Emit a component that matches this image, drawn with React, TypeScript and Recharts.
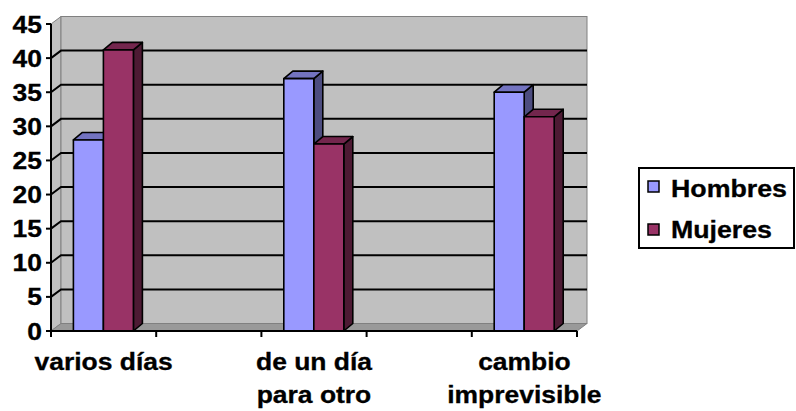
import React from 'react';
import { ComposedChart, Bar, XAxis, YAxis, ReferenceArea, Legend } from 'recharts';

const categories = ['varios días', 'de un día\npara otro', 'cambio\nimprevisible'];
const hombres = [28, 37, 35];
const mujeres = [41.2, 27.4, 31.4];

const yTicks = [0, 5, 10, 15, 20, 25, 30, 35, 40, 45];
const gridValues = [5, 10, 15, 20, 25, 30, 35, 40];
// tick marks sit between half-categories, labels sit on the category centres
const boundaryTicks = [-0.25, 0.25, 0.75, 1.25, 1.75, 2.25];
const labelTicks = [0, 1, 2];

const series = [
    { key: 'hombres', name: 'Hombres', width: 116, front: '#9999FF', top: '#7373C0', side: '#4D4D80' },
    { key: 'mujeres', name: 'Mujeres', width: 101, front: '#993366', top: '#73264D', side: '#4D1A33' },
];

const data = categories.map((c, i) => ({ x: i, name: c, hombres: hombres[i], mujeres: mujeres[i] }));

const FONT = '"Liberation Sans", Arial, sans-serif';
const FONT_SIZE = 23;
const STRETCH = 1.15;
// depth of the 3D walls and boxes
const DX = 10;
const DY = -7.5;
const BDX = 9;
const BDY = -7.5;

const textStyle = {
    fontFamily: FONT,
    fontWeight: 'bold' as const,
    fontSize: FONT_SIZE,
    fill: '#000',
    stroke: '#000',
    strokeWidth: 0.3,
};

const Walls = (props: any) => {
    const { x, y, width: w, height: h } = props;
    const bottom = y + h;
    return (
        <g>
            {/* left side wall */}
            <polygon
                points={`${x},${bottom} ${x},${y} ${x + DX},${y + DY} ${x + DX},${bottom + DY}`}
                fill="#C0C0C0"
                stroke="#808080"
                strokeWidth={1}
            />
            {/* back wall */}
            <rect x={x + DX} y={y + DY} width={w} height={h} fill="#C0C0C0" stroke="#808080" strokeWidth={1} />
            {/* floor */}
            <polygon
                points={`${x},${bottom} ${x + DX},${bottom + DY} ${x + w + DX},${bottom + DY} ${x + w},${bottom}`}
                fill="#999999"
                stroke="#808080"
                strokeWidth={1}
            />
            {gridValues.map(v => {
                const gy = y + h * (1 - v / 45);
                return (
                    <polyline
                        key={v}
                        points={`${x},${gy} ${x + DX},${gy + DY} ${x + w + DX},${gy + DY}`}
                        fill="none"
                        stroke="#000"
                        strokeWidth={2}
                    />
                );
            })}
        </g>
    );
};

const makeBox = (top: string, side: string) => (props: any) => {
    const { x, y, width: w, height: h, fill } = props;
    if (!h || h <= 0) return <g />;
    return (
        <g stroke="#000" strokeWidth={1.6} strokeLinejoin="round">
            <polygon points={`${x + w},${y} ${x + w + BDX},${y + BDY} ${x + w + BDX},${y + h + BDY} ${x + w},${y + h}`} fill={side} />
            <polygon points={`${x},${y} ${x + BDX},${y + BDY} ${x + w + BDX},${y + BDY} ${x + w},${y}`} fill={top} />
            <rect x={x} y={y} width={w} height={h} fill={fill} />
        </g>
    );
};

const YTick = (props: any) => {
    const { x, y, payload } = props;
    return (
        <text transform={`translate(${x + 1},${y + 8.5}) scale(${STRETCH},1)`} textAnchor="end" {...textStyle}>
            {payload.value}
        </text>
    );
};

const XTick = (props: any) => {
    const { x, y, payload } = props;
    const v = payload.value;
    if (!Number.isInteger(v)) {
        return <line x1={x} y1={y} x2={x} y2={y + 6} stroke="#000" strokeWidth={2} />;
    }
    const lines = categories[v].split('\n');
    return (
        <text transform={`translate(${x},${y + 39}) scale(${STRETCH},1)`} textAnchor="middle" {...textStyle}>
            {lines.map((l, i) => (
                <tspan key={i} x={0} y={i * 33}>
                    {l}
                </tspan>
            ))}
        </text>
    );
};

const LegendBox = () => (
    <svg width={157} height={82} style={{ display: 'block' }}>
        <rect x={1} y={1} width={155} height={80} fill="#fff" stroke="#000" strokeWidth={2} />
        {series.map((s, i) => (
            <g key={s.key}>
                <rect x={10} y={14 + i * 43} width={11} height={11} fill={s.front} stroke="#000" strokeWidth={1.5} />
                <text
                    x={33}
                    y={30 + i * 41}
                    textLength={s.width}
                    lengthAdjust="spacingAndGlyphs"
                    {...textStyle}
                >
                    {s.name}
                </text>
            </g>
        ))}
    </svg>
);

export default function App() {
    return (
        <div style={{ position: 'absolute', left: 0, top: 0, background: '#fff' }}>
            <ComposedChart
                width={796}
                height={411}
                data={data}
                margin={{ top: 24, right: 219, bottom: 20, left: 0 }}
                barGap={0}
            >
                <ReferenceArea x1={-0.25} x2={2.25} y1={0} y2={45} shape={Walls} ifOverflow="visible" />
                <XAxis
                    dataKey="x"
                    type="number"
                    domain={[-0.25, 2.25]}
                    ticks={[...boundaryTicks, ...labelTicks].sort((a, b) => a - b)}
                    interval={0}
                    height={60}
                    tickSize={0}
                    tickMargin={0}
                    tickLine={false}
                    axisLine={{ stroke: '#000', strokeWidth: 2 }}
                    tick={<XTick />}
                />
                <YAxis
                    type="number"
                    domain={[0, 45]}
                    ticks={yTicks}
                    interval={0}
                    width={51}
                    tickSize={5}
                    tickMargin={5}
                    tickLine={{ stroke: '#000', strokeWidth: 2 }}
                    axisLine={{ stroke: '#000', strokeWidth: 2 }}
                    tick={<YTick />}
                />
                {series.map(s => (
                    <Bar
                        key={s.key}
                        dataKey={s.key}
                        name={s.name}
                        fill={s.front}
                        barSize={30}
                        isAnimationActive={false}
                        shape={makeBox(s.top, s.side)}
                    />
                ))}
                <Legend
                    layout="vertical"
                    align="center"
                    verticalAlign="middle"
                    content={<LegendBox />}
                    wrapperStyle={{ left: 638, top: 167, width: 157, height: 82 }}
                />
            </ComposedChart>
        </div>
    );
}
